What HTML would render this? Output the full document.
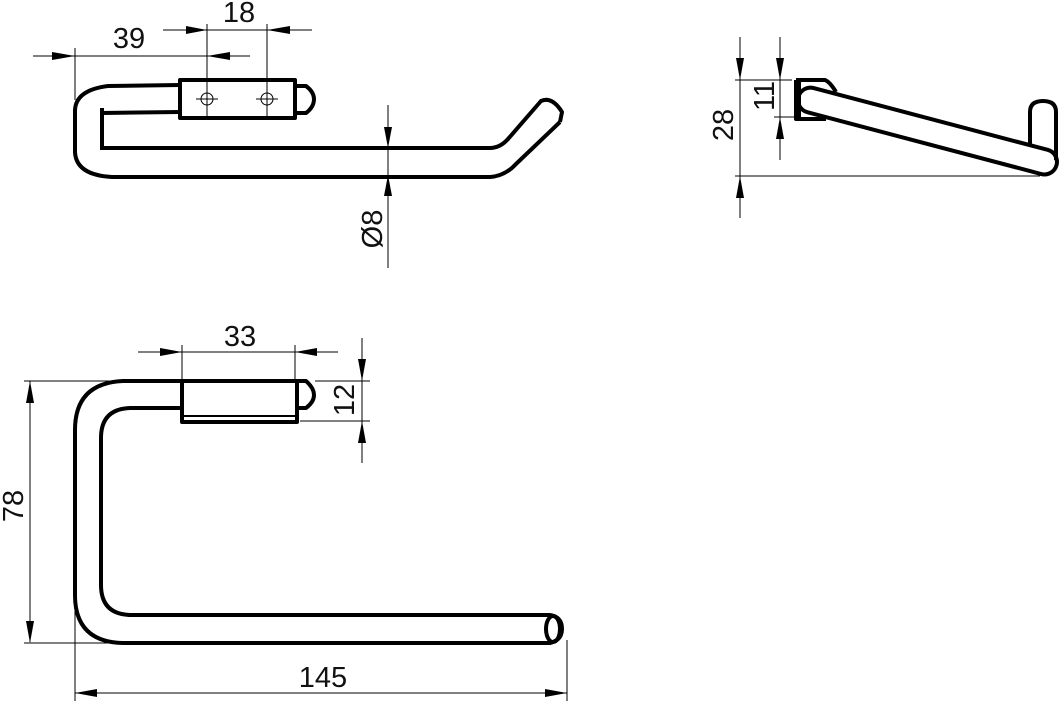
<!DOCTYPE html>
<html><head><meta charset="utf-8"><style>
html,body{margin:0;padding:0;background:#fff;}
svg{display:block;}
text{font-family:"Liberation Sans",sans-serif;fill:#111;}
</style></head><body>
<svg width="1060" height="701" viewBox="0 0 1060 701" xmlns="http://www.w3.org/2000/svg">
<g fill="none" stroke="#000" stroke-width="1">
<line x1="33" y1="56" x2="250" y2="56"/>
<line x1="75" y1="48" x2="75" y2="100"/>
<line x1="207" y1="24" x2="207" y2="118"/>
<line x1="267" y1="24" x2="267" y2="118"/>
<line x1="163" y1="30" x2="312" y2="30"/>
<line x1="388" y1="105" x2="388" y2="268"/>
<line x1="196" y1="99" x2="218" y2="99"/><circle cx="207" cy="99" r="6"/>
<line x1="256" y1="99" x2="278" y2="99"/><circle cx="267" cy="99" r="6"/>
<line x1="740" y1="37" x2="740" y2="218"/>
<line x1="735" y1="80" x2="792" y2="80"/>
<line x1="735" y1="176" x2="1040" y2="176"/>
<line x1="780" y1="37" x2="780" y2="160"/>
<line x1="774" y1="117" x2="794" y2="117"/>
<line x1="138" y1="352" x2="338" y2="352"/>
<line x1="182" y1="345" x2="182" y2="381"/>
<line x1="295" y1="345" x2="295" y2="381"/>
<line x1="362" y1="338" x2="362" y2="463"/>
<line x1="315" y1="381" x2="370" y2="381"/>
<line x1="300" y1="421" x2="370" y2="421"/>
<line x1="30" y1="381" x2="30" y2="642"/>
<line x1="24" y1="381" x2="112" y2="381"/>
<line x1="24" y1="643" x2="112" y2="643"/>
<line x1="75" y1="600" x2="75" y2="701"/>
<line x1="567" y1="640" x2="567" y2="701"/>
<line x1="75" y1="693" x2="567" y2="693"/>
</g>
<g fill="#000">
<path d="M52,52 L75,56 L52,60z"/><path d="M230,52 L207,56 L230,60z"/>
<path d="M186,26 L207,30 L186,34z"/><path d="M290,26 L267,30 L290,34z"/>
<path d="M384,127 L388,148 L392,127z"/><path d="M384,196 L388,175 L392,196z"/>
<path d="M736,58 L740,80 L744,58z"/><path d="M736,198 L740,176 L744,198z"/>
<path d="M776,58 L780,80 L784,58z"/><path d="M776,139 L780,117 L784,139z"/>
<path d="M160,348 L182,352 L160,356z"/><path d="M317,348 L295,352 L317,356z"/>
<path d="M358,359 L362,381 L366,359z"/><path d="M358,443 L362,421 L366,443z"/>
<path d="M26,403 L30,381 L34,403z"/><path d="M26,621 L30,643 L34,621z"/>
<path d="M97,689 L75,693 L97,697z"/><path d="M545,689 L567,693 L545,697z"/>
</g>
<g fill="none" stroke="#000" stroke-width="4" stroke-linejoin="round">
<rect x="180" y="80" width="115" height="38"/>
<path d="M295,86 L306,86 Q314,92 314,99 Q314,107 306,113 L295,113"/>
<path d="M180,85 L108,86 Q76,90 75,110 L75,152 Q76,175 112,177 L490,177 Q505,176 516,164 L560,122"/>
<path d="M180,112 L102,113 M102,108 L102,150 M102,148 L490,148 Q500,148 508,139 L541,101 Q552,96 562,112 L560,122"/>
</g>
<g fill="none" stroke="#000" stroke-width="4" stroke-linejoin="round">
<path d="M796,80 L825,80 Q830,82 836,92 M796,80 L796,119 L826,119"/>
<rect x="794" y="80" width="7" height="39" fill="#000" stroke="none"/>
<g transform="translate(810,100) rotate(14.8)">
<rect x="-12" y="-12.5" width="267" height="25" rx="12.5"/>
</g>
<path d="M1030,144 L1030,112 Q1030,101 1043,101 Q1056,101 1056,112 L1056,160"/>
</g>
<g fill="none" stroke="#000" stroke-width="4" stroke-linejoin="round">
<path d="M182,381 L123,381 Q75,383 75,430 L75,595 Q75,642 123,643 L550,643 Q562,640 562,629 Q562,617 550,615 L130,615 Q101,614 101,585 L101,438 Q101,409 130,408 L182,408"/>
<ellipse cx="553" cy="629" rx="7" ry="13"/>
<rect x="182" y="381" width="115" height="41"/>
<line x1="182" y1="416" x2="297" y2="416" stroke-width="2"/>
<path d="M297,381 L306,381 Q314,388 314,395 Q314,402 306,408 L297,408"/>
</g>
<g font-size="29">
<text x="129" y="48" text-anchor="middle">39</text>
<text x="239" y="22" text-anchor="middle">18</text>
<text transform="translate(382,229) rotate(-90)" text-anchor="middle">Ø8</text>
<text transform="translate(733,125) rotate(-90)" text-anchor="middle">28</text>
<text transform="translate(774,96) rotate(-90)" text-anchor="middle">11</text>
<text x="240" y="346" text-anchor="middle">33</text>
<text transform="translate(354,400) rotate(-90)" text-anchor="middle">12</text>
<text transform="translate(23,506) rotate(-90)" text-anchor="middle">78</text>
<text x="323" y="687" text-anchor="middle">145</text>
</g>
</svg>
</body></html>
